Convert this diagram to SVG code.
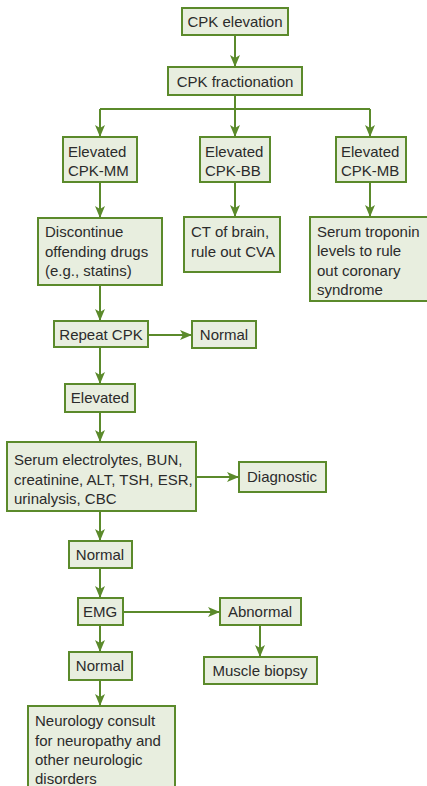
<svg xmlns="http://www.w3.org/2000/svg" width="427" height="786" viewBox="0 0 427 786">
  <defs>
    <marker id="arrow" viewBox="0 0 12 10" refX="12" refY="5" markerWidth="12" markerHeight="10" markerUnits="userSpaceOnUse" orient="auto">
      <path d="M0,0 L12,5 L0,10 L3,5 z" fill="#5b8a2b"/>
    </marker>
    <style>
      .box { fill: #e8eedf; stroke: #5b8a2b; stroke-width: 2; }
      .link { fill: none; stroke: #5b8a2b; stroke-width: 2; marker-end: url(#arrow); }
      .line { fill: none; stroke: #5b8a2b; stroke-width: 2; }
      text { font-family: "Liberation Sans", Arial, sans-serif; font-size: 15px; fill: #2b2b2b; }
      .c { text-anchor: middle; }
    </style>
  </defs>

  <g id="connectors">
    <path class="link" d="M235,35 V67"/>
    <path class="line" d="M235,95 V109 M100,109 H370"/>
    <path class="link" d="M100,109 V137"/>
    <path class="link" d="M235,109 V137"/>
    <path class="link" d="M370,109 V137"/>
    <path class="link" d="M100,182 V218"/>
    <path class="link" d="M235,182 V217"/>
    <path class="link" d="M370,182 V217"/>
    <path class="link" d="M100,285 V321"/>
    <path class="link" d="M148,335 H192"/>
    <path class="link" d="M100,347 V384"/>
    <path class="link" d="M100,412 V442"/>
    <path class="link" d="M196,477 H239"/>
    <path class="link" d="M100,511 V541"/>
    <path class="link" d="M100,568 V598"/>
    <path class="link" d="M123,612 H220"/>
    <path class="link" d="M260,625 V657"/>
    <path class="link" d="M100,625 V652"/>
    <path class="link" d="M100,680 V706"/>
  </g>

  <g id="cpk-elevation">
    <rect class="box" x="182" y="8" width="106" height="27"/>
    <text class="c" x="235" y="27">CPK elevation</text>
  </g>
  <g id="cpk-fractionation">
    <rect class="box" x="168" y="67" width="134" height="28"/>
    <text class="c" x="235" y="87">CPK fractionation</text>
  </g>
  <g id="elevated-mm">
    <rect class="box" x="63" y="137" width="74" height="45"/>
    <text x="68" y="157">Elevated</text>
    <text x="68" y="176">CPK-MM</text>
  </g>
  <g id="elevated-bb">
    <rect class="box" x="200" y="137" width="70" height="45"/>
    <text x="205" y="157">Elevated</text>
    <text x="205" y="176">CPK-BB</text>
  </g>
  <g id="elevated-mb">
    <rect class="box" x="336" y="137" width="70" height="45"/>
    <text x="341" y="157">Elevated</text>
    <text x="341" y="176">CPK-MB</text>
  </g>
  <g id="discontinue">
    <rect class="box" x="38" y="218" width="124" height="67"/>
    <text x="45" y="237">Discontinue</text>
    <text x="45" y="257">offending drugs</text>
    <text x="45" y="276">(e.g., statins)</text>
  </g>
  <g id="ct-brain">
    <rect class="box" x="184" y="217" width="96" height="55"/>
    <text x="191" y="237">CT of brain,</text>
    <text x="191" y="257">rule out CVA</text>
  </g>
  <g id="troponin">
    <rect class="box" x="310" y="217" width="130" height="84"/>
    <text x="317" y="237">Serum troponin</text>
    <text x="317" y="256">levels to rule</text>
    <text x="317" y="276">out coronary</text>
    <text x="317" y="295">syndrome</text>
  </g>
  <g id="repeat-cpk">
    <rect class="box" x="54" y="321" width="94" height="26"/>
    <text class="c" x="101" y="340">Repeat CPK</text>
  </g>
  <g id="normal-1">
    <rect class="box" x="192" y="321" width="64" height="27"/>
    <text class="c" x="224" y="340">Normal</text>
  </g>
  <g id="elevated">
    <rect class="box" x="65" y="384" width="70" height="28"/>
    <text class="c" x="100" y="403">Elevated</text>
  </g>
  <g id="labs">
    <rect class="box" x="7" y="442" width="189" height="69"/>
    <text x="14" y="465">Serum electrolytes, BUN,</text>
    <text x="14" y="485">creatinine, ALT, TSH, ESR,</text>
    <text x="14" y="504">urinalysis, CBC</text>
  </g>
  <g id="diagnostic">
    <rect class="box" x="239" y="462" width="87" height="30"/>
    <text class="c" x="282" y="482">Diagnostic</text>
  </g>
  <g id="normal-2">
    <rect class="box" x="69" y="541" width="63" height="27"/>
    <text class="c" x="100" y="560">Normal</text>
  </g>
  <g id="emg">
    <rect class="box" x="78" y="598" width="45" height="27"/>
    <text class="c" x="100" y="617">EMG</text>
  </g>
  <g id="abnormal">
    <rect class="box" x="220" y="598" width="81" height="27"/>
    <text class="c" x="260" y="617">Abnormal</text>
  </g>
  <g id="normal-3">
    <rect class="box" x="69" y="652" width="63" height="28"/>
    <text class="c" x="100" y="671">Normal</text>
  </g>
  <g id="muscle-biopsy">
    <rect class="box" x="204" y="657" width="113" height="27"/>
    <text class="c" x="260" y="676">Muscle biopsy</text>
  </g>
  <g id="neurology">
    <rect class="box" x="28" y="706" width="147" height="90"/>
    <text x="35" y="726">Neurology consult</text>
    <text x="35" y="746">for neuropathy and</text>
    <text x="35" y="765">other neurologic</text>
    <text x="35" y="784">disorders</text>
  </g>
</svg>
